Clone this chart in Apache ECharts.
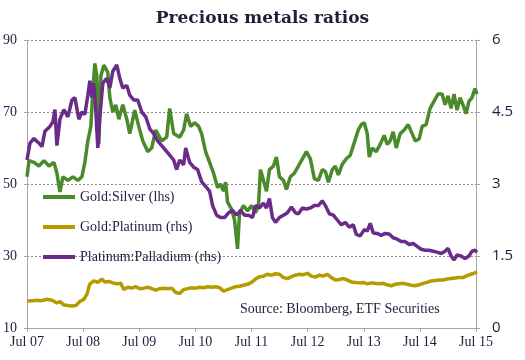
<!DOCTYPE html>
<html>
<head>
<meta charset="utf-8">
<script src="https://cdn.jsdelivr.net/npm/echarts@6/dist/echarts.min.js"></script>
<style>html,body{margin:0;padding:0;background:#fff}#c{width:525px;height:360px}</style>
</head>
<body>
<div id="c"></div>
<script>
// time: years since Jul 2007
var tickLabels = ['Jul 07','Jul 08','Jul 09','Jul 10','Jul 11','Jul 12','Jul 13','Jul 14','Jul 15'];

var goldSilverTime = [0,.036,.124,.213,.302,.391,.48,.533,.587,.64,.729,.818,.907,.978,1.031,1.084,1.138,1.173,1.209,1.244,1.28,1.316,1.369,1.44,1.476,1.529,1.582,1.636,1.707,1.778,1.831,1.92,1.991,2.062,2.151,2.222,2.293,2.4,2.489,2.542,2.613,2.72,2.791,2.844,2.916,2.987,3.058,3.111,3.182,3.253,3.324,3.396,3.449,3.502,3.538,3.573,3.644,3.698,3.751,3.787,3.858,3.929,4.0,4.071,4.124,4.16,4.213,4.267,4.32,4.391,4.444,4.498,4.569,4.622,4.693,4.764,4.836,4.907,4.978,5.049,5.12,5.191,5.262,5.316,5.369,5.44,5.493,5.547,5.618,5.689,5.76,5.831,5.902,5.956,6.009,6.062,6.098,6.151,6.222,6.293,6.364,6.418,6.471,6.524,6.578,6.649,6.72,6.791,6.862,6.916,6.987,7.04,7.111,7.182,7.253,7.324,7.396,7.449,7.502,7.556,7.609,7.662,7.716,7.769,7.822,7.876,7.929,7.982,8.018];
var goldSilverValues = [52,56.5,56,55,56.5,55,56,53,47.8,52,51,52,51,52,56,62,66,76,83.5,80,61,80,83,81,74,70,72,68,72,68,64,70.5,66,62,59,60,65,62,63,71,64,63,65,69.5,66,67,66,64,59,56,53,49,50,48,50.5,45,43,40,32,42,44,42.5,44,42,44,54,51,48,54,55,57.5,52,51,48.5,52,53,55,57,59,57,51.5,51,54,53.5,50.5,54,55,52.5,55.5,57,58,61.5,65,66.5,67,64,57.5,60,59,61,63.5,61,62,64.5,60,64,65,66.5,64,62,62.5,66,66.5,71,73,75,75,72,74.5,71,75,70.5,74,72,69.5,73,74,76.5,75];

var goldPlatinumTime = [0,.089,.178,.267,.356,.444,.533,.587,.658,.729,.8,.871,.942,1.013,1.067,1.12,1.191,1.262,1.333,1.387,1.458,1.529,1.6,1.671,1.724,1.796,1.867,1.938,2.009,2.08,2.151,2.222,2.293,2.364,2.436,2.507,2.578,2.649,2.72,2.791,2.862,2.933,3.004,3.076,3.147,3.218,3.289,3.36,3.431,3.502,3.573,3.644,3.716,3.787,3.858,3.929,4.0,4.071,4.142,4.213,4.284,4.356,4.427,4.498,4.569,4.64,4.711,4.782,4.853,4.924,4.996,5.067,5.138,5.209,5.28,5.351,5.422,5.493,5.564,5.636,5.707,5.778,5.849,5.92,5.991,6.062,6.133,6.204,6.276,6.347,6.418,6.489,6.56,6.631,6.702,6.773,6.844,6.916,6.987,7.058,7.129,7.2,7.271,7.342,7.413,7.484,7.556,7.627,7.698,7.769,7.84,7.911,7.982,8.018];
var goldPlatinumValues = [0.56,0.57,0.58,0.57,0.6,0.58,0.52,0.55,0.48,0.47,0.46,0.47,0.55,0.6,0.7,0.92,0.98,0.95,1.02,0.96,0.97,0.94,0.92,0.93,0.8,0.85,0.83,0.86,0.82,0.83,0.85,0.82,0.79,0.82,0.83,0.82,0.83,0.74,0.72,0.8,0.82,0.84,0.83,0.85,0.84,0.86,0.85,0.86,0.84,0.77,0.8,0.83,0.86,0.87,0.89,0.91,0.95,1.02,1.07,1.08,1.12,1.1,1.13,1.12,1.05,1.03,1.07,1.1,1.12,1.11,1.14,1.08,1.06,1.1,1.08,1.12,1.05,1.0,1.01,1.03,1.0,0.96,0.95,0.94,0.95,0.92,0.94,0.93,0.92,0.93,0.9,0.88,0.91,0.92,0.93,0.91,0.89,0.88,0.9,0.93,0.95,0.98,0.99,1.0,1.0,1.02,1.03,1.04,1.05,1.05,1.09,1.12,1.15,1.17];

var platPallTime = [0,.053,.124,.213,.267,.32,.409,.462,.498,.533,.587,.658,.729,.8,.853,.924,.978,1.031,1.084,1.12,1.156,1.191,1.227,1.262,1.298,1.351,1.422,1.476,1.529,1.6,1.653,1.707,1.778,1.831,1.902,1.973,2.044,2.116,2.187,2.258,2.329,2.4,2.471,2.542,2.613,2.667,2.72,2.791,2.827,2.898,2.969,3.04,3.111,3.182,3.253,3.307,3.378,3.449,3.52,3.591,3.662,3.733,3.804,3.876,3.947,4.018,4.071,4.142,4.213,4.267,4.32,4.373,4.427,4.498,4.569,4.64,4.711,4.782,4.836,4.907,4.978,5.049,5.12,5.191,5.262,5.316,5.387,5.458,5.529,5.6,5.671,5.742,5.813,5.867,5.938,6.009,6.062,6.116,6.169,6.24,6.311,6.382,6.453,6.524,6.596,6.667,6.738,6.809,6.88,6.951,7.022,7.093,7.164,7.236,7.307,7.378,7.449,7.502,7.556,7.609,7.662,7.733,7.804,7.876,7.929,7.982,8.018];
var platPallValues = [3.5,3.85,3.95,3.85,3.78,4.1,4.2,4.3,4.55,3.8,4.35,4.55,4.4,4.75,4.8,4.35,4.5,4.45,4.85,5.15,4.8,5.1,4.5,3.75,4.4,5.1,5.2,5.0,5.35,5.48,5.2,5.0,5.05,4.85,4.75,4.75,4.5,4.4,4.15,4.05,3.9,3.8,3.7,3.6,3.5,3.3,3.5,3.4,3.75,3.45,3.35,3.3,3.05,2.95,2.85,2.55,2.35,2.3,2.3,2.4,2.45,2.35,2.45,2.35,2.35,2.3,2.55,2.5,2.6,2.5,2.7,2.3,2.2,2.3,2.35,2.4,2.52,2.4,2.38,2.5,2.48,2.5,2.55,2.55,2.65,2.55,2.38,2.35,2.25,2.15,2.2,2.1,2.15,1.95,1.92,2.05,2.02,2.18,1.98,1.97,1.93,1.97,1.96,1.88,1.85,1.8,1.8,1.74,1.76,1.7,1.64,1.62,1.62,1.6,1.58,1.55,1.6,1.66,1.5,1.42,1.52,1.5,1.45,1.5,1.6,1.62,1.58];

function pairs(t, v) { return t.map(function (x, i) { return [x, v[i]]; }); }

var textCol = '#1c1f3a';
var serif = '"DejaVu Serif", "Liberation Serif", serif';
var lserif = '"Liberation Serif", serif';

var chart = echarts.init(document.getElementById('c'), null, {renderer: 'canvas'});
chart.setOption({
  animation: false,
  backgroundColor: '#fff',
  title: {
    text: 'Precious metals ratios', left: 'center', top: 5,
    textStyle: {fontFamily: serif, fontWeight: 'bold', fontSize: 17, color: textCol}
  },
  grid: {left: 25, right: 49, top: 40, bottom: 32},
  legend: {
    orient: 'vertical', left: 38, top: 184, itemGap: 14,
    icon: 'rect', itemWidth: 32, itemHeight: 4,
    textStyle: {fontFamily: lserif, fontSize: 14, color: textCol, lineHeight: 16},
    data: ['Gold:Silver (lhs)', 'Gold:Platinum (rhs)', 'Platinum:Palladium (rhs)']
  },
  graphic: [{
    type: 'text', left: 240, top: 302,
    style: {text: 'Source: Bloomberg, ETF Securities', font: '14px "Liberation Serif", serif', fill: textCol}
  }],
  xAxis: {
    type: 'value', min: 0, max: 8, interval: 1,
    axisLine: {lineStyle: {color: '#a6a6a6', width: 1}},
    axisTick: {show: true, length: 4, lineStyle: {color: '#a6a6a6'}},
    splitLine: {show: false},
    axisLabel: {
      margin: 7, fontFamily: lserif, fontSize: 14, color: textCol,
      formatter: function (v) { return tickLabels[Math.round(v)] || ''; }
    }
  },
  yAxis: [{
    type: 'value', min: 10, max: 90, interval: 20,
    axisLine: {show: true, lineStyle: {color: '#a6a6a6'}},
    axisTick: {show: true, length: 3, lineStyle: {color: '#a6a6a6'}},
    splitLine: {show: true, lineStyle: {color: '#8c8c8c', type: [2, 2], width: 1}},
    axisLabel: {margin: 10, fontFamily: lserif, fontSize: 14, color: textCol}
  }, {
    type: 'value', min: 0, max: 6, interval: 1.5, position: 'right',
    axisLine: {show: true, lineStyle: {color: '#a6a6a6'}},
    axisTick: {show: true, length: 4, lineStyle: {color: '#a6a6a6'}},
    splitLine: {show: false},
    axisLabel: {margin: 16, fontFamily: '"Open Sans", "Liberation Sans", sans-serif', fontSize: 15, color: textCol}
  }],
  series: [{
    name: 'Gold:Silver (lhs)', type: 'line', yAxisIndex: 0, showSymbol: false, symbol: 'none',
    data: pairs(goldSilverTime, goldSilverValues),
    lineStyle: {color: '#4a8a2a', width: 3.5}, itemStyle: {color: '#4a8a2a'}
  }, {
    name: 'Gold:Platinum (rhs)', type: 'line', yAxisIndex: 1, showSymbol: false, symbol: 'none',
    data: pairs(goldPlatinumTime, goldPlatinumValues),
    lineStyle: {color: '#b59b00', width: 3.5}, itemStyle: {color: '#b59b00'}
  }, {
    name: 'Platinum:Palladium (rhs)', type: 'line', yAxisIndex: 1, showSymbol: false, symbol: 'none',
    data: pairs(platPallTime, platPallValues),
    lineStyle: {color: '#6a2b8a', width: 3.5}, itemStyle: {color: '#6a2b8a'}
  }]
});
</script>
</body>
</html>
